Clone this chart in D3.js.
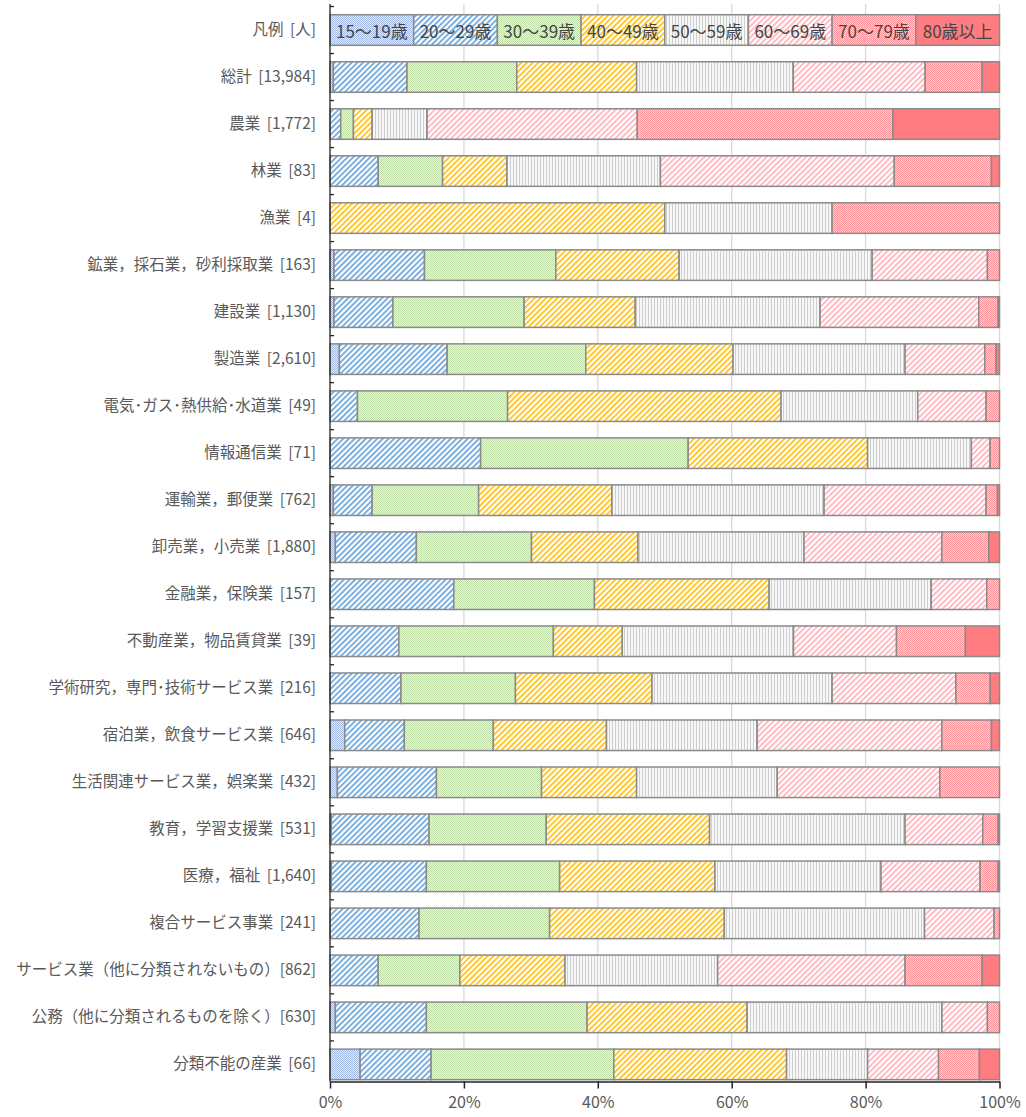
<!DOCTYPE html>
<html>
<head>
<meta charset="utf-8">
<script src="https://cdn.jsdelivr.net/npm/d3@7"></script>
<style>
html,body{margin:0;padding:0;background:#fff;}
svg{display:block;font-family:"Noto Sans CJK JP","Noto Sans",sans-serif;}
</style>
</head>
<body>
<svg id="chart" width="1026" height="1117"></svg>
<script>
// ---- data ----
const legendLabel = "凡例 [人]";
const categories = [
  "総計 [13,984]","農業 [1,772]","林業 [83]","漁業 [4]",
  "鉱業，採石業，砂利採取業 [163]","建設業 [1,130]","製造業 [2,610]",
  "電気･ガス･熱供給･水道業 [49]","情報通信業 [71]","運輸業，郵便業 [762]",
  "卸売業，小売業 [1,880]","金融業，保険業 [157]","不動産業，物品賃貸業 [39]",
  "学術研究，専門･技術サービス業 [216]","宿泊業，飲食サービス業 [646]",
  "生活関連サービス業，娯楽業 [432]","教育，学習支援業 [531]","医療，福祉 [1,640]",
  "複合サービス事業 [241]","サービス業（他に分類されないもの）[862]",
  "公務（他に分類されるものを除く）[630]","分類不能の産業 [66]"
];
const ageGroups = ["15～19歳","20～29歳","30～39歳","40～49歳","50～59歳","60～69歳","70～79歳","80歳以上"];
const age15_19 = [0.5,0,0,0,0.6,0.6,1.4,0,0,0.5,0.8,0,0,0,2.2,1.1,0.2,0.2,0,0,0.8,4.5];
const age20_29 = [11.0,1.6,7.2,0,13.5,8.8,16.1,4.1,22.5,5.8,12.1,18.5,10.3,10.6,8.9,14.8,14.6,14.2,13.3,7.2,13.6,10.6];
const age30_39 = [16.4,1.9,9.6,0,19.6,19.6,20.7,22.4,31.0,15.9,17.2,21.0,23.1,17.1,13.3,15.7,17.5,19.9,19.5,12.2,24.0,27.3];
const age40_49 = [17.9,2.8,9.6,50,18.4,16.6,22.0,40.8,26.8,19.9,15.9,26.1,10.3,20.4,16.9,14.2,24.4,23.2,26.1,15.7,23.9,25.8];
const age50_59 = [23.4,8.2,22.9,25,28.8,27.6,25.7,20.4,15.5,31.7,24.8,24.2,25.6,26.9,22.5,21.0,29.2,24.8,29.9,22.8,29.1,12.1];
const age60_69 = [19.7,31.4,34.9,0,17.2,23.7,11.9,10.2,2.8,24.2,20.6,8.3,15.4,18.5,27.6,24.3,11.6,14.8,10.4,28.0,6.8,10.6];
const age70_79 = [8.5,38.2,14.5,25,1.8,2.9,1.7,2.0,1.4,1.7,7.0,1.9,10.3,5.1,7.4,8.9,2.3,2.7,0.8,11.5,1.8,6.1];
const age80_up = [2.6,15.9,1.2,0,0,0.2,0.5,0,0,0.3,1.6,0,5.1,1.4,1.2,0,0.2,0.2,0,2.6,0,3.0];
const xTicks = [0,20,40,60,80,100];

const seriesArrays = [age15_19,age20_29,age30_39,age40_49,age50_59,age60_69,age70_79,age80_up];

// ---- layout ----
const svg = d3.select("#chart");
const rows = [legendLabel].concat(categories);
const x = d3.scaleLinear().domain([0,100]).range([330,999.5]);
const y = d3.scaleBand().domain(rows).range([6.5,1087.9]).paddingInner(0.35).paddingOuter(0.175);
const plotTop = 4, axisY = 1081.5;

// ---- patterns ----
const defs = svg.append("defs");
function checker(id,a,b){
  const p = defs.append("pattern").attr("id",id).attr("patternUnits","userSpaceOnUse").attr("width",2).attr("height",2);
  p.append("rect").attr("width",2).attr("height",2).attr("fill",b);
  p.append("rect").attr("width",1).attr("height",1).attr("fill",a);
  p.append("rect").attr("x",1).attr("y",1).attr("width",1).attr("height",1).attr("fill",a);
}
function diag(id,color,w){
  const p = defs.append("pattern").attr("id",id).attr("patternUnits","userSpaceOnUse")
    .attr("width",4).attr("height",4).attr("patternTransform","rotate(45)");
  p.append("rect").attr("width",4).attr("height",4).attr("fill","#ffffff");
  p.append("rect").attr("width",w).attr("height",4).attr("fill",color);
}
checker("p0","#a4bbe6","#e1e8f6");
diag("p1","#6fa8dc",1.8);
checker("p2","#bedca6","#eef6e8");
diag("p3","#ffc21a",1.8);
(function(){
  const p = defs.append("pattern").attr("id","p4").attr("patternUnits","userSpaceOnUse").attr("width",3).attr("height",3);
  p.append("rect").attr("width",3).attr("height",3).attr("fill","#f7f7f7");
  p.append("rect").attr("width",1).attr("height",3).attr("fill","#cfcfcf");
})();
diag("p5","#ffbcc4",2);
checker("p6","#ff939a","#ffd0d3");
const fills = ["url(#p0)","url(#p1)","url(#p2)","url(#p3)","url(#p4)","url(#p5)","url(#p6)","#ff7c80"];

// ---- gridlines ----
svg.append("g").selectAll("line").data(xTicks.filter(d=>d>0)).join("line")
  .attr("x1",d=>x(d)).attr("x2",d=>x(d)).attr("y1",plotTop).attr("y2",axisY)
  .attr("stroke","#d9d9d9").attr("stroke-width",1.3);

// ---- stacked data ----
const rowData = categories.map((c,i)=>{
  const vals = seriesArrays.map(s=>s[i]);
  const tot = d3.sum(vals);
  let acc = 0;
  return {cat:c, segs: vals.map((v,k)=>{const s={k, x0:acc/tot*100, x1:(acc+v)/tot*100, v}; acc+=v; return s;})};
});
const legendRow = {cat:legendLabel, segs: ageGroups.map((g,k)=>({k, x0:k*12.5, x1:(k+1)*12.5, v:12.5, label:g}))};
const allRows = [legendRow].concat(rowData);

const gBars = svg.append("g");
allRows.forEach(r=>{
  const g = gBars.append("g");
  g.selectAll("rect").data(r.segs.filter(s=>s.v>0)).join("rect")
    .attr("x",s=>x(s.x0)).attr("width",s=>x(s.x1)-x(s.x0))
    .attr("y",y(r.cat)).attr("height",y.bandwidth())
    .attr("fill",s=>fills[s.k]).attr("stroke","#8a8a8a").attr("stroke-width",1.5);
});
// legend labels
svg.append("g").selectAll("text").data(legendRow.segs).join("text")
  .attr("x",s=>(x(s.x0)+x(s.x1))/2).attr("y",y(legendLabel)+y.bandwidth()/2)
  .attr("text-anchor","middle").attr("dominant-baseline","central")
  .attr("font-size",17).attr("fill","#454545").text(s=>s.label);

// ---- axes ----
const xAxis = svg.append("g").attr("transform",`translate(0,${axisY})`)
  .call(d3.axisBottom(x).tickValues(xTicks).tickFormat(d=>d+"%").tickSize(7).tickSizeOuter(0));
xAxis.select(".domain").attr("stroke","#222").attr("stroke-width",1.5);
xAxis.selectAll(".tick line").attr("stroke","#222").attr("stroke-width",1.5);
xAxis.selectAll("text").attr("font-size",16).attr("fill","#595959").attr("dy","1.05em")
  .attr("font-family","'Noto Sans CJK JP',sans-serif");

const yAxis = svg.append("g").attr("transform",`translate(${x(0)},0)`)
  .call(d3.axisLeft(y).tickSize(0).tickPadding(14));
yAxis.select(".domain").attr("stroke","#222").attr("stroke-width",1.3)
  .attr("d",`M0,${plotTop}V${axisY}`);
yAxis.selectAll("text").attr("font-size",15.5).attr("fill","#595959")
  .attr("font-family","'Noto Sans CJK JP',sans-serif")
  .attr("word-spacing","3px");
// inside boundary ticks between categories
const step = y.step();
const bounds = rows.map(r=>y(r)+y.bandwidth()/2-step/2);
yAxis.append("g").selectAll("line").data(bounds).join("line")
  .attr("x1",0).attr("x2",4).attr("y1",d=>d).attr("y2",d=>d)
  .attr("stroke","#222").attr("stroke-width",1.3);
</script>
</body>
</html>
